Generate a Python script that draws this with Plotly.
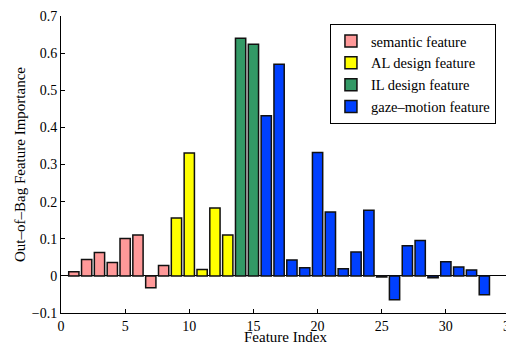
import plotly.graph_objects as go

# Data
semantic_idx = [1, 2, 3, 4, 5, 6, 7, 8]
semantic_val = [0.011, 0.044, 0.063, 0.036, 0.101, 0.110, -0.032, 0.028]
al_idx = [9, 10, 11, 12, 13]
al_val = [0.156, 0.331, 0.017, 0.183, 0.110]
il_idx = [14, 15]
il_val = [0.640, 0.624]
gaze_idx = list(range(16, 34))
gaze_val = [0.431, 0.570, 0.043, 0.022, 0.332, 0.172, 0.019, 0.064, 0.177,
            -0.003, -0.064, 0.081, 0.095, -0.005, 0.038, 0.024, 0.016, -0.051]

x_ticks = [0, 5, 10, 15, 20, 25, 30, 35]
x_ticklabels = ["0", "5", "10", "15", "20", "25", "30", "35"]
y_ticks = [-0.1, 0, 0.1, 0.2, 0.3, 0.4, 0.5, 0.6, 0.7]
y_ticklabels = ["−0.1", "0", "0.1", "0.2", "0.3", "0.4", "0.5", "0.6", "0.7"]

x_title = "Feature Index"
y_title = "Out–of–Bag Feature Importance"

groups = [
    ("semantic feature", semantic_idx, semantic_val, "#FF9999"),
    ("AL design feature", al_idx, al_val, "#FFFF00"),
    ("IL design feature", il_idx, il_val, "#339966"),
    ("gaze–motion feature", gaze_idx, gaze_val, "#0040FF"),
]

FONT = "Liberation Serif"

fig = go.Figure()
for name, xs, ys, col in groups:
    fig.add_trace(go.Bar(
        x=xs, y=ys, name=name,
        marker=dict(color=col, line=dict(color="#111111", width=1.5)),
    ))

# The page body has an 8px default margin, so the figure is 8px smaller
fig.update_layout(
    width=506, height=337,
    margin=dict(l=53, r=4, t=8, b=32, autoexpand=False),
    paper_bgcolor="white", plot_bgcolor="white",
    barmode="overlay", bargap=0.2,
    font=dict(family=FONT, size=14, color="black"),
    legend=dict(
        x=0.599, y=0.973, xanchor="left", yanchor="top",
        bgcolor="white", bordercolor="black", borderwidth=1,
        font=dict(family=FONT, size=14.5, color="black"),
        tracegroupgap=0, itemwidth=30,
    ),
    xaxis=dict(
        range=[0, 35], tickvals=x_ticks, ticktext=x_ticklabels,
        showline=True, linecolor="black", linewidth=1,
        ticks="inside", ticklen=4, tickcolor="black",
        showgrid=False, zeroline=False, automargin=False,
        ticklabeloverflow="allow",
        tickfont=dict(family=FONT, size=14),
    ),
    yaxis=dict(
        range=[-0.1, 0.7], tickvals=y_ticks, ticktext=y_ticklabels,
        showline=True, linecolor="black", linewidth=1,
        ticks="inside", ticklen=4, tickcolor="black",
        showgrid=False, zeroline=True, zerolinecolor="black", zerolinewidth=1,
        automargin=False,
        tickfont=dict(family=FONT, size=14),
        title=dict(text=y_title, font=dict(family=FONT, size=15), standoff=2),
    ),
    annotations=[dict(
        text=x_title, xref="paper", yref="paper", x=0.5, y=-0.081,
        xanchor="center", yanchor="middle", showarrow=False,
        font=dict(family=FONT, size=15, color="black"),
    )],
)

fig.write_html("out.html")
